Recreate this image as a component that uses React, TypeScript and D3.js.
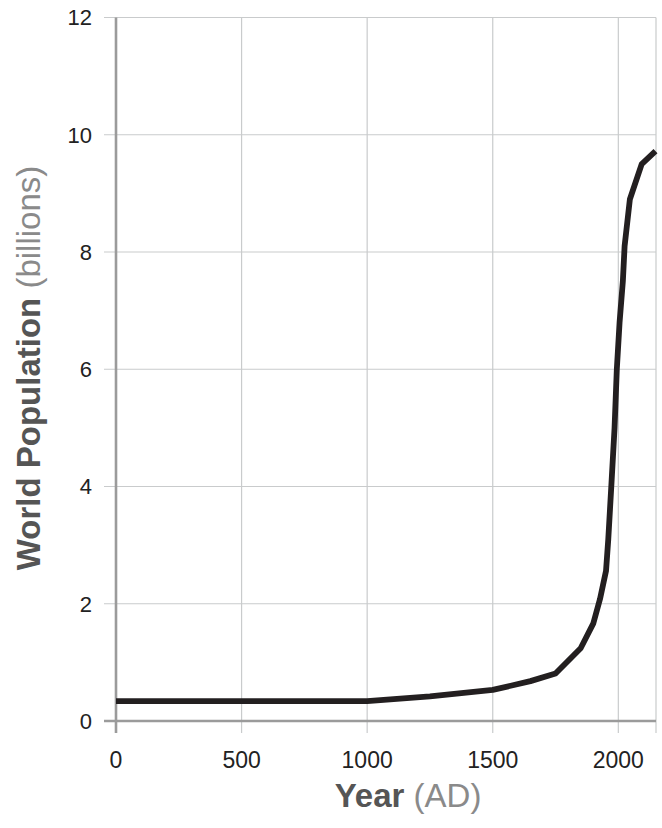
import React from "react";
import * as d3 from "d3";

const years = [0, 1000, 1250, 1500, 1650, 1750, 1850, 1900, 1927, 1951, 1960, 1972, 1985, 1994, 2005, 2018, 2025, 2046, 2093, 2148];
const population = [0.34, 0.34, 0.42, 0.53, 0.68, 0.81, 1.24, 1.66, 2.08, 2.56, 3.1, 4.0, 5.0, 6.0, 6.8, 7.5, 8.1, 8.9, 9.5, 9.72];
const xTicks = [0, 500, 1000, 1500, 2000];
const yTicks = [0, 2, 4, 6, 8, 10, 12];

const W = 662;
const H = 828;
const FONT = "'Liberation Sans', Arial, Helvetica, sans-serif";

export default function App() {
  const x = d3.scaleLinear().domain([0, 2150]).range([116, 656]);
  const y = d3.scaleLinear().domain([0, 12]).range([721, 17.5]);
  const line = d3
    .line<number>()
    .x((_, i) => x(years[i]))
    .y((d) => y(d))
    .curve(d3.curveLinear);
  const gridColor = "#c9cbcc";
  const axisColor = "#9b9b9b";
  const xGrid = [...xTicks, 2150];

  return (
    <svg width={W} height={H} style={{ position: "absolute", left: 0, top: 0, background: "#fff" }}>
      {yTicks.map((t) => (
        <line key={"hg" + t} x1={104} x2={656} y1={y(t)} y2={y(t)} stroke={gridColor} strokeWidth={1.2} />
      ))}
      {xGrid.map((t) => (
        <line key={"vg" + t} x1={x(t)} x2={x(t)} y1={y(12)} y2={733} stroke={gridColor} strokeWidth={1.2} />
      ))}
      <line x1={104} x2={656} y1={y(0)} y2={y(0)} stroke={axisColor} strokeWidth={2.6} />
      <line x1={x(0)} x2={x(0)} y1={y(12)} y2={733} stroke={axisColor} strokeWidth={2.6} />
      <path d={line(population) || ""} fill="none" stroke="#231f20" strokeWidth={5.8} strokeLinejoin="round" />
      {yTicks.map((t) => (
        <text key={"yl" + t} x={92} y={y(t)} dy="0.36em" textAnchor="end" fontFamily={FONT} fontSize={22} fill="#222">
          {t}
        </text>
      ))}
      {xTicks.map((t) => (
        <text key={"xl" + t} x={x(t)} y={768} textAnchor="middle" fontFamily={FONT} fontSize={23} fill="#222">
          {t}
        </text>
      ))}
      <text x={408} y={807} textAnchor="middle" fontFamily={FONT} fontSize={33}>
        <tspan fontWeight="bold" fill="#555">Year</tspan>
        <tspan fill="#8a8a8a" fontWeight={300}> (AD)</tspan>
      </text>
      <text
        transform={`translate(40, 368) rotate(-90)`}
        textAnchor="middle"
        fontFamily={FONT}
        fontSize={33}
      >
        <tspan fontWeight="bold" fill="#555">World Population</tspan>
        <tspan fill="#8a8a8a" fontWeight={300}> (billions)</tspan>
      </text>
    </svg>
  );
}
